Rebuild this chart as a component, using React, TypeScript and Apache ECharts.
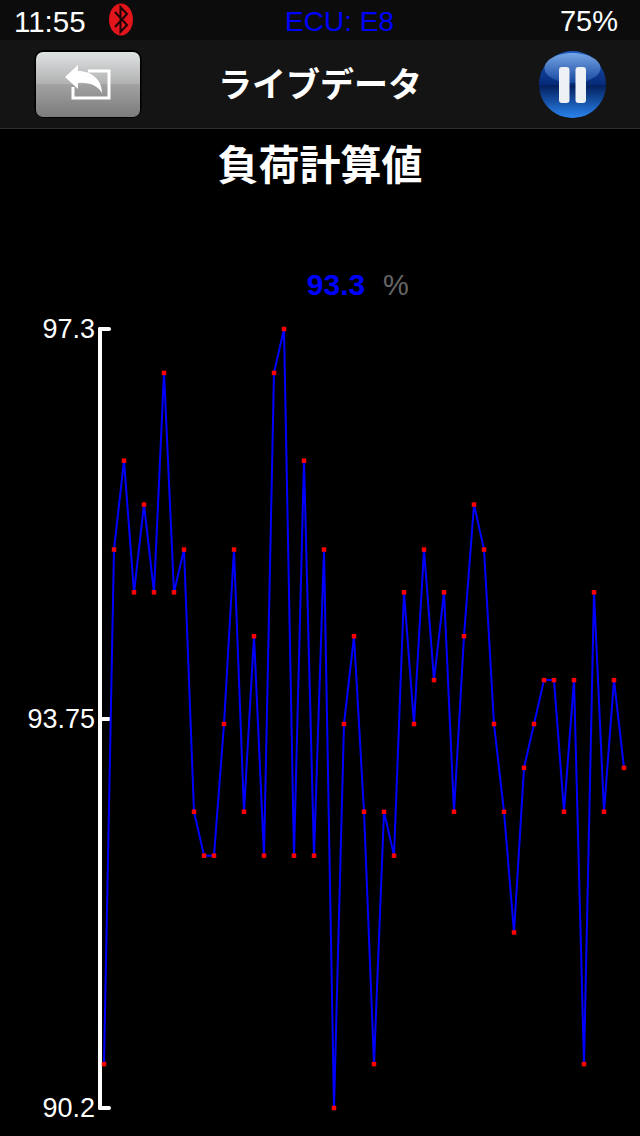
import React, { useEffect, useRef } from "react";
import * as echarts from "echarts";

const loadValues = [
  90.6, 95.29, 96.1, 94.9, 95.7, 94.9, 96.9, 94.9, 95.29, 92.9, 92.5, 92.5, 93.7, 95.29, 92.9, 94.5, 92.5, 96.9,
  97.3, 92.5, 96.1, 92.5, 95.29, 90.2, 93.7, 94.5, 92.9, 90.6, 92.9, 92.5, 94.9, 93.7, 95.29, 94.1, 94.9, 92.9,
  94.5, 95.7, 95.29, 93.7, 92.9, 91.8, 93.3, 93.7, 94.1, 94.1, 92.9, 94.1, 90.6, 94.9, 92.9, 94.1, 93.3,
];
const sampleIndex = loadValues.map((_, i) => String(i));
const yTicks = [90.2, 93.75, 97.3];
const statusTime = "11:55";
const statusEcu = "ECU: E8";
const statusBattery = "75%";
const navTitle = "ライブデータ";
const chartTitle = "負荷計算値";
const currentValue = "93.3";
const currentUnit = "%";

echarts.graphic.registerShape(
  "backArrow",
  echarts.graphic.extendPath(
    "M65 77 L78 65 L78 71 C92 71 102 80 102 93 C98 86 90 82 78 83 L78 89 Z",
    {}
  )
);

const SANS = '"Liberation Sans", Arial, sans-serif';
const CJK = '"Noto Sans CJK JP", sans-serif';

const lin = (stops: [number, string][]) => ({
  type: "linear",
  x: 0,
  y: 0,
  x2: 0,
  y2: 1,
  colorStops: stops.map(([offset, color]) => ({ offset, color })),
});

export default function App() {
  const ref = useRef<HTMLDivElement>(null);
  useEffect(() => {
    document.body.style.background = "#000";
    const chart = echarts.init(ref.current!, null, { renderer: "svg" });
    chart.setOption({
      animation: false,
      backgroundColor: "#000",
      grid: { left: 104, right: 16, top: 329, bottom: 28 },
      xAxis: { type: "category", data: sampleIndex, boundaryGap: false, show: false },
      yAxis: {
        type: "value",
        min: 90.2,
        max: 97.3,
        offset: 4,
        splitLine: { show: false },
        axisLine: { show: true, lineStyle: { color: "#fff", width: 4, cap: "round" } },
        axisTick: {
          show: true,
          inside: true,
          length: 9,
          customValues: yTicks,
          lineStyle: { color: "#fff", width: 4, cap: "round" },
        },
        axisLabel: {
          show: true,
          customValues: yTicks,
          margin: 5,
          color: "#fff",
          fontSize: 27,
          fontFamily: SANS,
          formatter: (v: number) => String(v),
        },
      },
      series: [
        {
          type: "line",
          data: loadValues,
          symbol: "rect",
          symbolSize: 4.5,
          showSymbol: true,
          showAllSymbols: true,
          clip: false,
          lineStyle: { color: "#0000ff", width: 2 },
          itemStyle: { color: "#ff0000" },
          emphasis: { disabled: true },
        },
      ],
      graphic: [
        { type: "rect", shape: { x: 0, y: 0, width: 640, height: 40 }, style: { fill: "#0c0c0c" }, silent: true },
        { type: "rect", shape: { x: 0, y: 40, width: 640, height: 88 }, style: { fill: "#141414" }, silent: true },
        { type: "rect", shape: { x: 0, y: 128, width: 640, height: 1 }, style: { fill: "#2e2e2e" }, silent: true },
        { type: "text", x: 14, y: 21, style: { text: statusTime, fill: "#fff", font: `29.5px ${SANS}`, textAlign: "left", textVerticalAlign: "middle" } },
        { type: "ellipse", shape: { cx: 121, cy: 19.5, rx: 12, ry: 16 }, style: { fill: "#e2141c" } },
        { type: "polyline", shape: { points: [[115, 12], [127, 25], [120.5, 32], [120.5, 7], [127, 14], [115, 27]] }, style: { stroke: "#1a0404", lineWidth: 2, fill: "none" } },
        { type: "text", x: 339.5, y: 21, style: { text: statusEcu, fill: "#0000ff", font: `28px ${SANS}`, textAlign: "center", textVerticalAlign: "middle" } },
        { type: "text", x: 618, y: 21, style: { text: statusBattery, fill: "#fff", font: `29px ${SANS}`, textAlign: "right", textVerticalAlign: "middle" } },

        { type: "rect", shape: { x: 34.5, y: 50, width: 107, height: 68, r: 9 }, style: { fill: "#000" } },
        { type: "rect", shape: { x: 36, y: 52, width: 104, height: 65, r: 7 }, style: { fill: lin([[0, "#dfe2e3"], [0.5, "#b0b0b0"], [0.5, "#a2a2a2"], [1, "#7b7b7b"]]) } },
        { type: "polyline", shape: { points: [[73, 87], [73, 98], [109, 98], [109, 71], [88, 71]] }, style: { stroke: "#fff", lineWidth: 3, fill: "none" } },
        { type: "backArrow", style: { fill: "#fff" } },

        { type: "text", x: 320, y: 82, style: { text: navTitle, fill: "#fff", font: `bold 34px ${CJK}`, textAlign: "center", textVerticalAlign: "middle" } },

        { type: "circle", shape: { cx: 572.5, cy: 84.5, r: 33.5 }, style: { fill: lin([[0, "#1d5cc2"], [0.5, "#062a78"], [0.52, "#03205f"], [1, "#2a84ee"]]) } },
        { type: "ellipse", shape: { cx: 572.5, cy: 68, rx: 28, ry: 15 }, style: { fill: lin([[0, "#8db8ee"], [1, "#1a4ea8"]]), opacity: 0.8 } },
        { type: "rect", shape: { x: 559, y: 67, width: 10.5, height: 36, r: 3 }, style: { fill: "#eef1f4" } },
        { type: "rect", shape: { x: 575.5, y: 67, width: 10.5, height: 36, r: 3 }, style: { fill: "#eef1f4" } },

        { type: "text", x: 320, y: 162, style: { text: chartTitle, fill: "#fff", font: `bold 41px ${CJK}`, textAlign: "center", textVerticalAlign: "middle" } },
        { type: "text", x: 336, y: 284.5, style: { text: currentValue, fill: "#0000ff", font: `bold 30px ${SANS}`, textAlign: "center", textVerticalAlign: "middle" } },
        { type: "text", x: 396, y: 285, style: { text: currentUnit, fill: "#666", font: `29px ${SANS}`, textAlign: "center", textVerticalAlign: "middle" } },
      ],
    });
    return () => chart.dispose();
  }, []);
  return <div ref={ref} style={{ position: "absolute", left: 0, top: 0, width: 640, height: 1136 }} />;
}
